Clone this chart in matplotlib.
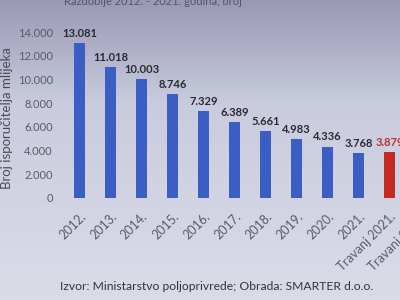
import numpy as np
import matplotlib
matplotlib.use("Agg")
import matplotlib.pyplot as plt
from matplotlib.ticker import FuncFormatter

categories = ["2012.", "2013.", "2014.", "2015.", "2016.", "2017.", "2018.",
              "2019.", "2020.", "2021.", "Travanj 2021.", "Travanj 2022."]
values = [13081, 11018, 10003, 8746, 7329, 6389, 5661, 4983, 4336, 3768, 3879]
value_labels = ["13.081", "11.018", "10.003", "8.746", "7.329", "6.389", "5.661",
                "4.983", "4.336", "3.768", "3.879"]
colors = ["#3a5ec4"] * 10 + ["#c42a22"]
label_colors = ["#2a2a33"] * 10 + ["#c0302a"]
yticks = [0, 2000, 4000, 6000, 8000, 10000, 12000, 14000]

plt.rcParams['font.family'] = ['Lato', 'DejaVu Sans']

fig = plt.figure(figsize=(4, 3), dpi=100)

# background gradient (photo of a screen)
bg = fig.add_axes([0, 0, 1, 1], zorder=-10)
top = np.array([0.60, 0.60, 0.71])
mid = np.array([0.79, 0.80, 0.87])
bot = np.array([0.86, 0.86, 0.91])
t = np.linspace(0, 1, 300)[:, None]
grad = np.where(t < 0.35, top + (mid - top) * (t / 0.35), mid + (bot - mid) * ((t - 0.35) / 0.65))
img = np.repeat(grad[:, None, :], 10, axis=1)
bg.imshow(img, aspect='auto', extent=[0, 1, 0, 1])
bg.axis('off')

ax = fig.add_axes([0.16, 0.34, 0.93, 0.553])
ax.patch.set_alpha(0)
x = np.arange(len(values))
ax.bar(x, values, width=0.38, color=colors)
for xi, v, lab, c in zip(x, values, value_labels, label_colors):
    ax.text(xi, v + 350, lab, ha='center', va='bottom', fontsize=8,
            fontweight='bold', color=c)

ax.set_xlim(-0.5, 11.5)
ax.set_ylim(0, 14000)
ax.set_yticks(yticks)
ax.yaxis.set_major_formatter(FuncFormatter(lambda v, p: f"{int(v):,}".replace(",", ".")))
ax.set_xticks(np.arange(len(categories)))
ax.set_xticklabels(categories, rotation=45, ha='right', rotation_mode='anchor')
ax.tick_params(axis='both', length=0, labelcolor='#5a5a68')
ax.tick_params(axis='y', pad=8, labelsize=8)
ax.tick_params(axis='x', pad=9, labelsize=9)
for s in ax.spines.values():
    s.set_visible(False)

fig.text(0.018, 0.843, "Broj isporučitelja mlijeka", rotation=90, ha='center',
         va='top', fontsize=9.5, color='#4a4a58')
fig.text(0.16, 0.995, "Razdoblje 2012. - 2021. godina, broj", ha='left', va='center',
         fontsize=8, color='#555560')
fig.text(0.15, 0.045, "Izvor: Ministarstvo poljoprivrede; Obrada: SMARTER d.o.o.",
         ha='left', va='center', fontsize=8.7, color='#333340')

fig.savefig("out.png", dpi=100)
